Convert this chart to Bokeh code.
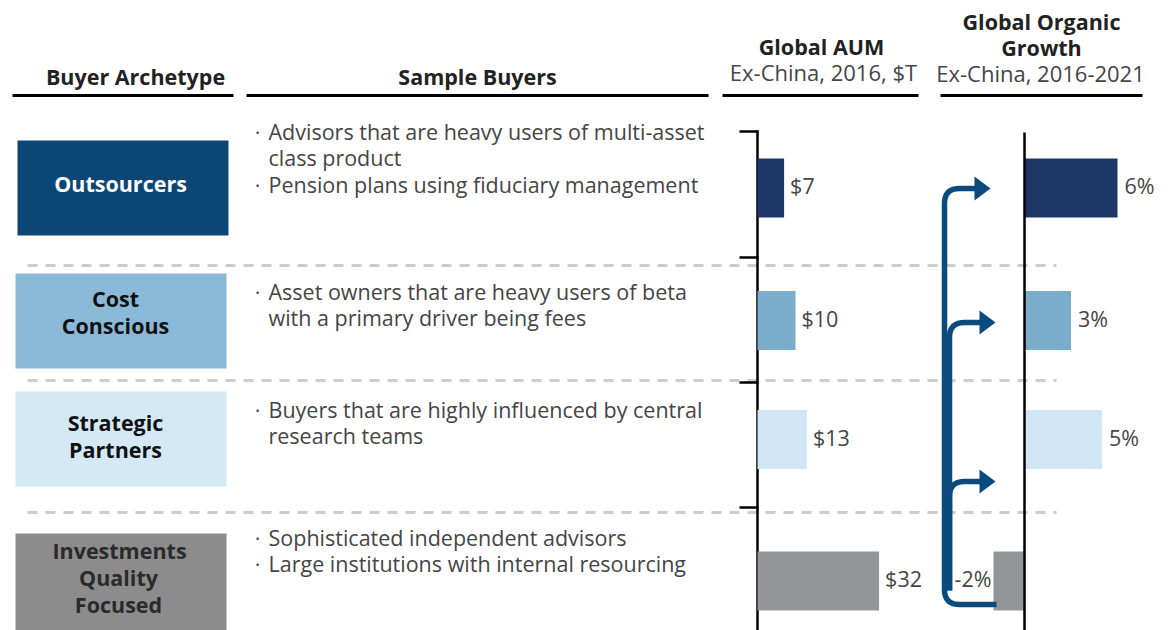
import math
from bokeh.plotting import figure
from bokeh.models import Range1d
from bokeh.core.properties import value
from bokeh.embed import file_html
from bokeh.resources import INLINE

# ---------------- data ----------------
archetypes = [["Outsourcers"], ["Cost", "Conscious"], ["Strategic", "Partners"],
              ["Investments", "Quality", "Focused"]]
buyer_lines = [
    [("•", "Advisors that are heavy users of multi-asset"), ("", "class product"),
     ("•", "Pension plans using fiduciary management")],
    [("•", "Asset owners that are heavy users of beta"), ("", "with a primary driver being fees")],
    [("•", "Buyers that are highly influenced by central"), ("", "research teams")],
    [("•", "Sophisticated independent advisors"), ("•", "Large institutions with internal resourcing")],
]
aum = [7, 10, 13, 32]            # Global AUM ex-China 2016, $T
growth = [6, 3, 5, -2]           # Global organic growth ex-China 2016-2021, %
aum_labels = [f"${v}" for v in aum]
growth_labels = [f"{v}%" for v in growth]

box_colors = ["#0B4677", "#8BBAD9", "#D4E8F6", "#8C8C8D"]
box_text_colors = ["#FFFFFF", "#111111", "#111111", "#2A2A2A"]
bar_colors = ["#1C3665", "#7AADCB", "#D0E6F5", "#939598"]

# ---------------- layout (pixel coordinates of the page) ----------------
W, H = 1160, 630
FONT = value("Open Sans")
FS = "21.5px"
DY = -2.5                      # text 'middle' anchor correction
row_y = [187.5, 320, 439, 580.5]
box_y = [(140, 235), (273, 368), (391, 486), (533, 640)]
box_x = [(17, 228), (15, 226), (15, 226), (15, 226)]
label_x = [[120], [115, 115], [115, 115], [119, 118, 118]]
label_y = [[185.5], [300.5, 327.5], [424.5, 451.5], [552.5, 579.5, 606.5]]
text_y = [[133, 159, 186], [293, 319], [411, 437], [539, 565]]
sep_y = [265, 380, 512]
aum_zero, aum_scale = 757, 3.8
gr_zero, gr_scale = 1024, 15.5
bar_h = 59
body_color = "#454545"

p = figure(width=W, height=H, x_range=Range1d(0, W), y_range=Range1d(H, 0),
           output_backend="svg", toolbar_location=None, min_border=0)
p.axis.visible = False
p.grid.visible = False
p.outline_line_color = None
p.background_fill_color = "white"
p.extra_x_ranges = {
    "aum": Range1d((0 - aum_zero) / aum_scale, (W - aum_zero) / aum_scale),
    "gr": Range1d((0 - gr_zero) / gr_scale, (W - gr_zero) / gr_scale),
}

# headers
hdr_bold = "#222222"
p.text(x=[135, 477, 821, 1041, 1041], y=[78.5 + DY, 78.5 + DY, 48.5 + DY, 23.5 + DY, 49 + DY],
       text=["Buyer Archetype", "Sample Buyers", "Global AUM", "Global Organic", "Growth"],
       text_font=FONT, text_font_style="bold", text_font_size=FS, text_align="center",
       text_baseline="middle", text_color=hdr_bold)
p.text(x=[823, 1040], y=[73.5 + DY, 75 + DY], text=["Ex-China, 2016, $T", "Ex-China, 2016-2021"],
       text_font=FONT, text_font_size="22px", text_align="center",
       text_baseline="middle", text_color=body_color)
p.segment(x0=[12, 246, 722, 940], x1=[233, 708, 918, 1142], y0=[95] * 4, y1=[95] * 4,
          line_color="black", line_width=3)

# separators
p.segment(x0=[27] * 3, x1=[1056] * 3, y0=sep_y, y1=sep_y, line_color="#CCCCCC",
          line_width=3, line_dash="10 8")

# archetype boxes
p.quad(left=[b[0] for b in box_x], right=[b[1] for b in box_x],
       top=[b[0] for b in box_y], bottom=[b[1] for b in box_y],
       fill_color=box_colors, line_color=None)
for i, lines in enumerate(archetypes):
    p.text(x=label_x[i], y=[v + DY for v in label_y[i]], text=lines, text_font=FONT,
           text_font_style="bold", text_font_size=FS, text_align="center",
           text_baseline="middle", text_color=box_text_colors[i])

# sample buyers text
for i, lines in enumerate(buyer_lines):
    ys = [v + DY for v in text_y[i]]
    bys = [y for (b, _), y in zip(lines, ys) if b]
    p.text(x=[257] * len(bys), y=[v + 1.5 for v in bys], text=["•"] * len(bys), text_font=FONT,
           text_font_size="11px", text_align="center", text_baseline="middle",
           text_color=body_color)
    p.text(x=[268] * len(lines), y=ys, text=[t for _, t in lines], text_font=FONT,
           text_font_size=FS, text_align="left", text_baseline="middle",
           text_color=body_color)

# AUM bracket axis
p.segment(x0=[757], x1=[757], y0=[130], y1=[640], line_color="black", line_width=2.5)
ticks_y = [131, 257, 382, 507]
p.segment(x0=[739] * 4, x1=[758] * 4, y0=ticks_y, y1=ticks_y, line_color="black", line_width=2.5)

label_row_y = [v + DY for v in row_y]

# AUM bars
p.hbar(y=row_y, left=0, right=aum, height=bar_h, fill_color=bar_colors, line_color=None,
       x_range_name="aum")
p.text(x=aum, y=label_row_y, text=aum_labels, x_offset=6, x_range_name="aum", text_font=FONT,
       text_font_size=FS, text_baseline="middle", text_align="left", text_color=body_color)

# growth bars
p.hbar(y=row_y, left=0, right=growth, height=bar_h, fill_color=bar_colors, line_color=None,
       x_range_name="gr")
p.segment(x0=[1024], x1=[1024], y0=[132], y1=[640], line_color="black", line_width=2.5)
pos = [i for i, g in enumerate(growth) if g >= 0]
neg = [i for i, g in enumerate(growth) if g < 0]
p.text(x=[growth[i] for i in pos], y=[label_row_y[i] for i in pos],
       text=[growth_labels[i] for i in pos], x_offset=7, x_range_name="gr", text_font=FONT,
       text_font_size=FS, text_baseline="middle", text_align="left", text_color=body_color)
p.text(x=[growth[i] for i in neg], y=[label_row_y[i] for i in neg],
       text=[growth_labels[i] for i in neg], x_offset=-2, x_range_name="gr", text_font=FONT,
       text_font_size=FS, text_baseline="middle", text_align="right", text_color=body_color)


# arrows (decorative flow from Investments Quality Focused to the other archetypes)
def rounded(points, r=14, n=10):
    xs, ys = [points[0][0]], [points[0][1]]
    for k in range(1, len(points) - 1):
        (x0, y0), (x1, y1), (x2, y2) = points[k - 1], points[k], points[k + 1]
        d1 = math.hypot(x1 - x0, y1 - y0); d2 = math.hypot(x2 - x1, y2 - y1)
        ax, ay = x1 - (x1 - x0) / d1 * r, y1 - (y1 - y0) / d1 * r
        bx, by = x1 + (x2 - x1) / d2 * r, y1 + (y2 - y1) / d2 * r
        for j in range(n + 1):
            t = j / n
            xs.append((1 - t) ** 2 * ax + 2 * (1 - t) * t * x1 + t ** 2 * bx)
            ys.append((1 - t) ** 2 * ay + 2 * (1 - t) * t * y1 + t ** 2 * by)
    xs.append(points[-1][0]); ys.append(points[-1][1])
    return xs, ys


arrow_color = "#0B4A7D"
paths = [
    [(996, 604), (944, 604), (944, 188), (977, 188)],
    [(949, 590), (949, 322), (981, 322)],
    [(949, 590), (949, 481), (981, 481)],
]
mx, my = [], []
for pts in paths:
    a, b = rounded(pts, r=15)
    mx.append(a); my.append(b)
p.multi_line(xs=mx, ys=my, line_color=arrow_color, line_width=5.5, line_join="round")
heads = [(990, 188), (995, 322), (995, 481)]
p.patches(xs=[[tx - 16, tx, tx - 16] for tx, ty in heads],
          ys=[[ty - 12, ty, ty + 12] for tx, ty in heads],
          fill_color=arrow_color, line_color=None)

open("out.html", "w").write(file_html(p, INLINE))
